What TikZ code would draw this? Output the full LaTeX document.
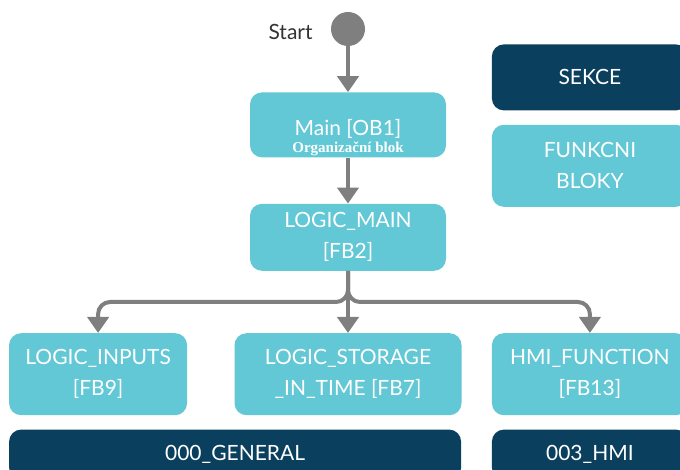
\documentclass[tikz,border=0pt]{standalone}
\usepackage{fontspec}
\setmainfont{Lato}
\newfontfamily\orgfont{Liberation Serif}
\usetikzlibrary{positioning, arrows.meta}
\definecolor{blokcolor}{HTML}{63C8D5}
\definecolor{sekcecolor}{HTML}{0A405E}
\definecolor{flowgray}{HTML}{7F7F7F}
\tikzset{
  blok/.style={fill=blokcolor, rounded corners=12pt, text=white, align=center, inner sep=0pt, font=\fontsize{21}{31}\selectfont},
  sekce/.style={blok, fill=sekcecolor},
  flow/.style={draw=flowgray, line width=4pt, -{Triangle[width=21pt, length=16pt]}},
}

\begin{document}
\begin{tikzpicture}[x=1pt, y=-1pt]
  \useasboundingbox (0,0) rectangle (680,470);
  \clip (0,0) rectangle (680,470);
  % Start und Hauptbloecke
  \node[circle, fill=flowgray, minimum size=34pt, inner sep=0pt] (start) at (348,29) {};
  \node[left=18pt of start, yshift=-3pt, text=black!80, font=\fontsize{21}{25}\selectfont, inner sep=0pt] (starttext) {Start};
  \node[blok, minimum width=196pt, minimum height=65pt, below=46pt of start] (main) {\rule{0pt}{42pt}Main [OB1]\\[-14pt]{\orgfont\bfseries\fontsize{15}{17}\selectfont Organizační blok}};
  \node[blok, minimum width=196pt, minimum height=67pt, below=46pt of main] (logicmain) {LOGIC\_MAIN\\{}[FB2]};

  % Funktionsbloecke
  \node[blok, minimum width=227pt, minimum height=82pt, below=62pt of logicmain] (storage) {LOGIC\_STORAGE\\\_IN\_TIME [FB7]};
  \node[blok, minimum width=178pt, minimum height=82pt, left=47pt of storage] (inputs) {LOGIC\_INPUTS\\{}[FB9]};
  \node[blok, minimum width=196pt, minimum height=82pt, right=30pt of storage] (hmi) {HMI\_FUNCTION\\{}[FB13]};

  % Sekce
  \node[sekce, minimum width=452pt, minimum height=50pt, anchor=north west, below right=14pt and 0pt of inputs.south west] (general) {000\_GENERAL};
  \node[sekce, minimum width=196pt, minimum height=50pt, below=14pt of hmi] (hmisekce) {003\_HMI};

  % Legende
  \node[blok, minimum width=196pt, minimum height=82pt, above=126pt of hmi] (funkcni) {FUNKCNI\\BLOKY};
  \node[sekce, minimum width=196pt, minimum height=66pt, above=14pt of funkcni] (sekcelegend) {SEKCE};

  % Verbindungen
  \coordinate (fork) at (348,302);
  \draw[flow] (start) -- (main);
  \draw[flow] (main) -- (logicmain);
  \draw[flow] (logicmain) -- (storage);
  \draw[flow, rounded corners=12pt] (logicmain.south) -- (logicmain.south |- fork) -| (inputs.north);
  \draw[flow, rounded corners=12pt] (logicmain.south) -- (logicmain.south |- fork) -| (hmi.north);
\end{tikzpicture}
\end{document}
